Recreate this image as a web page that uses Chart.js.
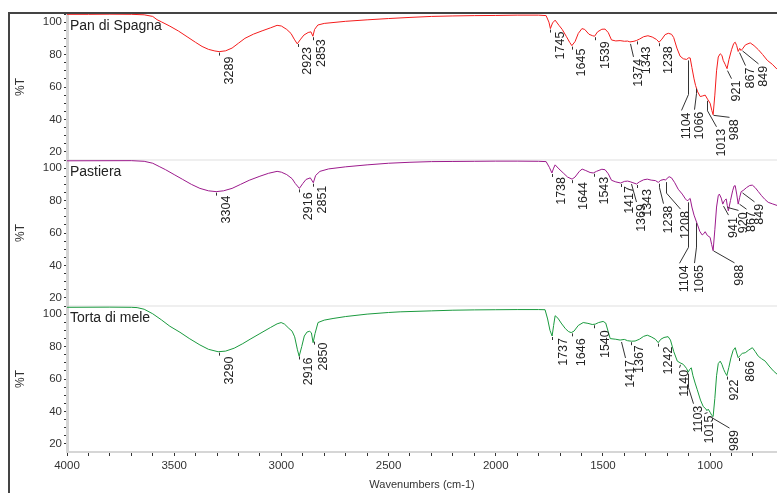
<!DOCTYPE html>
<html>
<head>
<meta charset="utf-8">
<script src="https://cdn.jsdelivr.net/npm/chart.js@4.4.1/dist/chart.umd.min.js"></script>
<style>
  body { margin: 0; background: #fff; }
  canvas { display: block; }
</style>
</head>
<body>
<canvas id="ftirChart" width="777" height="493"></canvas>
<script>
// Pan di Spagna (red)
const wnPan = [4000, 3900, 3800, 3700, 3640, 3600, 3580, 3560, 3520, 3480, 3440, 3400, 3370, 3340, 3310, 3290, 3260, 3230, 3200, 3170, 3130, 3090, 3050, 3020, 3000, 2975, 2955, 2940, 2926, 2910, 2895, 2875, 2862, 2853, 2845, 2830, 2800, 2700, 2600, 2500, 2400, 2300, 2200, 2100, 2000, 1900, 1800, 1765, 1752, 1745, 1735, 1723, 1705, 1690, 1670, 1655, 1645, 1630, 1615, 1598, 1585, 1565, 1548, 1539, 1525, 1505, 1490, 1475, 1460, 1440, 1420, 1400, 1385, 1374, 1355, 1343, 1330, 1310, 1290, 1270, 1250, 1238, 1225, 1210, 1195, 1180, 1170, 1155, 1140, 1125, 1110, 1100, 1093, 1085, 1075, 1068, 1058, 1046, 1035, 1023, 1012, 1000, 992, 986, 978, 970, 962, 953, 945, 939, 930, 921, 912, 900, 890, 883, 876, 869, 862, 856, 849, 835, 813, 795, 775, 755, 733, 710, 688];
const tPan = [104.8, 104.8, 104.9, 104.8, 104.5, 103.5, 101.5, 100.2, 97.5, 94.5, 91, 87.5, 85, 83.2, 82.2, 81.8, 82.3, 84, 87, 90, 92.6, 94.6, 96.5, 98, 97.6, 95.5, 93, 89.5, 86.6, 89.5, 92, 93.6, 94, 91.3, 95.5, 98.2, 99.2, 100.5, 101.4, 102.2, 102.9, 103.5, 103.8, 104, 104.1, 104.3, 104.3, 104, 100, 96, 99.5, 101.2, 98, 95.5, 91, 87.5, 85.5, 88, 93, 96, 95.5, 92.5, 91.6, 91.3, 94, 95.6, 95.7, 93.5, 89, 88.4, 88.6, 88.2, 88.3, 87.8, 88.2, 88.7, 89.5, 91, 91.6, 90.8, 89.3, 87.6, 89.5, 92.3, 93.1, 92.5, 90.5, 84, 79, 77.4, 77, 78, 77.9, 72, 65, 61, 57, 54.1, 54.5, 55, 52.5, 50, 45.5, 42.9, 55, 70, 78.5, 80.5, 79.5, 76.4, 74, 71.3, 77, 83, 86.8, 87.6, 85.5, 81.9, 83.8, 82.5, 83.5, 86, 87.2, 85.5, 83, 80, 76.4, 74, 71];

// Pastiera (purple)
const wnPast = [4000, 3700, 3640, 3600, 3570, 3540, 3500, 3460, 3420, 3380, 3340, 3304, 3270, 3230, 3190, 3150, 3100, 3060, 3020, 3000, 2975, 2950, 2935, 2916, 2900, 2885, 2865, 2851, 2840, 2820, 2780, 2700, 2600, 2500, 2400, 2300, 2200, 2100, 2000, 1900, 1800, 1765, 1750, 1738, 1730, 1723, 1705, 1685, 1665, 1644, 1630, 1610, 1597, 1580, 1560, 1545, 1530, 1505, 1490, 1475, 1460, 1440, 1417, 1400, 1385, 1373, 1360, 1343, 1330, 1310, 1293, 1275, 1255, 1242, 1230, 1215, 1208, 1200, 1191, 1180, 1165, 1149, 1130, 1115, 1107, 1100, 1093, 1085, 1075, 1060, 1048, 1037, 1030, 1023, 1013, 1000, 993, 986, 978, 970, 962, 957, 948, 941, 933, 925, 920, 915, 905, 895, 888, 883, 876, 869, 862, 855, 846, 830, 815, 803, 790, 775, 760, 745, 729, 710, 688];
const tPast = [104.5, 104.6, 104.2, 103, 101, 99, 96, 93, 90, 87.5, 86, 85.5, 86, 87.5, 90, 92.5, 95, 96.8, 98, 97.5, 96, 93.5, 90.5, 87.5, 90.5, 93, 94, 91, 95.5, 98, 99.5, 100.8, 102, 103, 103.6, 104, 104.1, 104.2, 104.3, 104.3, 104.2, 104, 100.5, 97, 100, 102, 99.5, 97, 94.5, 93.2, 94.5, 98, 99.4, 98.5, 97.3, 97, 98, 99.3, 99, 96.5, 92.5, 91.5, 90.8, 91.8, 92, 91.6, 91, 90.2, 91.5, 92.8, 93.2, 92.6, 92.3, 91.2, 92.5, 93, 92.6, 93.8, 94.7, 94, 91, 87, 84, 81, 79.9, 80.5, 81.3, 76, 71, 65.5, 61, 58.8, 59.5, 60.8, 58.5, 57.3, 53, 49.1, 62, 76, 83, 84, 81.5, 77.8, 80, 81, 77, 73.7, 80, 86, 89, 89.2, 84, 77.8, 82, 85.5, 86.2, 88, 89.3, 89.5, 88, 85.5, 83, 80.8, 78.9, 78, 77];

// Torta di mele (green)
const wnTorta = [4000, 3800, 3700, 3673, 3640, 3600, 3560, 3520, 3473, 3430, 3380, 3340, 3295, 3260, 3220, 3180, 3146, 3100, 3050, 3020, 3001, 2985, 2965, 2950, 2938, 2925, 2917, 2905, 2893, 2880, 2868, 2860, 2852, 2843, 2829, 2800, 2759, 2700, 2600, 2500, 2446, 2300, 2200, 2100, 2000, 1900, 1800, 1770, 1758, 1747, 1737, 1730, 1723, 1710, 1695, 1675, 1660, 1648, 1635, 1615, 1592, 1570, 1550, 1536, 1520, 1499, 1487, 1475, 1466, 1440, 1420, 1400, 1385, 1367, 1350, 1330, 1310, 1293, 1275, 1255, 1242, 1230, 1215, 1196, 1185, 1170, 1153, 1140, 1125, 1110, 1102, 1095, 1088, 1080, 1070, 1060, 1045, 1032, 1020, 1015, 1009, 1000, 992, 986, 978, 970, 962, 953, 945, 937, 930, 922, 913, 903, 893, 883, 876, 869, 860, 850, 836, 820, 803, 790, 775, 760, 743, 725, 705, 688];
const tTorta = [104.2, 104.3, 104.2, 104, 103, 100.2, 96.5, 92.5, 88.8, 85, 81, 78.3, 76.8, 77.2, 79, 81.8, 84.5, 88, 91.8, 94, 94.8, 93.8, 91.2, 89.5, 86, 78, 74, 80, 86.5, 89, 89.4, 88.5, 82.4, 88, 94.8, 96.3, 97.3, 98.5, 100, 101, 101.4, 102, 102.4, 102.6, 102.7, 102.8, 102.8, 102.7, 97, 90, 86.5, 93, 99, 97.5, 94.5, 91, 89.2, 88.6, 89.5, 93, 94.8, 94.3, 93.6, 93.8, 94.8, 95.5, 94.5, 89, 84.9, 84.5, 84, 84.4, 83.6, 83.3, 83.4, 84.5, 86.3, 87, 86, 84.5, 82.4, 84.5, 85.6, 86.1, 84, 77, 71, 70, 69, 66.5, 64.2, 66, 66.9, 62, 57.5, 53.4, 47, 43, 41.6, 40.5, 41.4, 39.5, 37.5, 36.8, 48, 62, 69.5, 71, 69, 66, 64, 62.1, 67, 73, 77.5, 79.3, 76, 73.1, 74.5, 75.8, 76.2, 77.8, 79.3, 77, 74, 72.5, 71, 68, 65, 63];

// peak annotations
const peaksPan = [3289, 2923, 2853, 1745, 1645, 1539, 1374, 1343, 1238, 1104, 1066, 1013, 988, 921, 867, 849];
const peaksPast = [3304, 2916, 2851, 1738, 1644, 1543, 1417, 1369, 1343, 1238, 1208, 1104, 1065, 988, 941, 920, 867, 849];
const peaksTorta = [3290, 2916, 2850, 1737, 1646, 1540, 1417, 1367, 1242, 1140, 1103, 1015, 989, 922, 866];

// label offsets in px from the peak point: [dx, dy]
const offsPan = [[4, 5], [3, 4], [2, 3], [4, 3], [3, 3], [4, 5], [2, 17], [3, 6], [3, 4], [-8, 54], [-3, 25], [8, 30], [15, 6], [3, 12], [5, 17], [15, 17]];
const offsPast = [[4, 4], [3, 4], [3, 3], [3, 4], [5, 3], [4, 4], [2, 3], [4, 22], [4, 5], [3, 24], [13, 31], [-10, 65], [-3, 44], [20, 16], [4, 13], [10, 7], [6, 9], [11, 13]];
const offsTorta = [[4, 5], [3, 2], [3, 2], [5, 2], [3, 6], [5, 6], [3, 20], [2, 4], [4, 4], [-2, 7], [4, 34], [-4, 5], [16, 14], [1, 4], [5, 4]];

const panels = [
	{name: 'Pan di Spagna', axis: 'y1', wn: wnPan, t: tPan, peaks: peaksPan, offs: offsPan, color: '#f41c1c'},
	{name: 'Pastiera', axis: 'y2', wn: wnPast, t: tPast, peaks: peaksPast, offs: offsPast, color: '#9c1a8c'},
	{name: 'Torta di mele', axis: 'y3', wn: wnTorta, t: tTorta, peaks: peaksTorta, offs: offsTorta, color: '#1a9a3e'}
];

const sans = '"Liberation Sans", Arial, sans-serif';

const valueAt = (wn, t, w) => {
	for (let i = 0; i < wn.length - 1; i++) {
		if (w <= wn[i] && w >= wn[i + 1]) {
			const f = (wn[i] - w) / (wn[i] - wn[i + 1]);
			return t[i] + f * (t[i + 1] - t[i]);
		}
	}
	return t[t.length - 1];
};

const frame = {
	id: 'frame',
	beforeDatasetsDraw(chart) {
		const ctx = chart.ctx;
		const area = chart.chartArea;
		ctx.save();
		ctx.strokeStyle = '#efefef';
		ctx.lineWidth = 2;
		['y1', 'y2'].forEach(id => {
			const b = chart.scales[id].bottom;
			ctx.beginPath();
			ctx.moveTo(area.left + 2, b);
			ctx.lineTo(area.right, b);
			ctx.stroke();
		});
		ctx.restore();
	},
	afterDraw(chart) {
		const ctx = chart.ctx;
		ctx.save();
		ctx.strokeStyle = '#444';
		ctx.lineWidth = 2;
		ctx.beginPath();
		ctx.moveTo(9, chart.height);
		ctx.lineTo(9, 13);
		ctx.lineTo(chart.width, 13);
		ctx.stroke();
		ctx.restore();
	}
};

const peakLabels = {
	id: 'peakLabels',
	afterDatasetsDraw(chart) {
		const ctx = chart.ctx;
		const xs = chart.scales.x;
		panels.forEach(p => {
			const ys = chart.scales[p.axis];
			ctx.save();
			ctx.fillStyle = '#222';
			ctx.font = '14px ' + sans;
			ctx.fillText(p.name, chart.chartArea.left + 3, ys.top + 16);
			ctx.font = '12.5px ' + sans;
			ctx.strokeStyle = '#333';
			ctx.lineWidth = 1;
			p.peaks.forEach((w, j) => {
				const [dx, dy] = p.offs[j];
				const px = Math.round(xs.getPixelForValue(w)) + 0.5;
				const py = ys.getPixelForValue(valueAt(p.wn, p.t, w));
				const lx = px + dx, ly = py + dy;
				ctx.beginPath();
				if (dy > 8 || dx < 0 || dx > 6) {
					ctx.moveTo(px, py + 2);
					if (ly - 18 > py + 4) ctx.lineTo(px, ly - 18);
					ctx.lineTo(lx + 1, ly - 2);
				} else {
					ctx.moveTo(px, py + 1);
					ctx.lineTo(px, py + 4);
				}
				ctx.stroke();
				ctx.save();
				ctx.translate(lx, ly);
				ctx.rotate(-Math.PI / 2);
				ctx.textAlign = 'right';
				ctx.textBaseline = 'top';
				ctx.fillText(String(w), 0, 0);
				ctx.restore();
			});
			ctx.restore();
		});
	}
};

const yAxis = (weight) => ({
	type: 'linear',
	position: 'left',
	stack: 'panels',
	stackWeight: 1,
	weight: weight,
	min: 15,
	max: 105,
	afterBuildTicks: s => { s.ticks = s.ticks.filter(t => t.value % 5 === 0 && t.value > 15); },
	afterFit: s => { s.width = 57; },
	ticks: {
		stepSize: 5,
		autoSkip: false,
		padding: 2,
		color: '#333',
		font: {family: sans, size: 11.5},
		callback: v => (v % 20 === 0 ? v : '')
	},
	grid: {drawOnChartArea: false, tickLength: 3, tickColor: '#333', tickWidth: 1},
	border: {color: '#d6d6d6', width: 3},
	title: {display: true, text: '%T', color: '#333', font: {family: sans, size: 12}, padding: {top: 3, bottom: 0}}
});

new Chart(document.getElementById('ftirChart'), {
	type: 'line',
	data: {
		datasets: panels.map(p => ({
			label: p.name,
			yAxisID: p.axis,
			data: p.wn.map((w, i) => ({x: w, y: p.t[i]})),
			borderColor: p.color,
			borderWidth: 1,
			pointRadius: 0,
			tension: 0,
			fill: false
		}))
	},
	options: {
		responsive: false,
		animation: false,
		devicePixelRatio: 1,
		layout: {padding: {left: 10, top: 14, right: 0, bottom: 0}},
		plugins: {legend: {display: false}, tooltip: {enabled: false}},
		scales: {
			x: {
				type: 'linear',
				reverse: true,
				min: 688,
				max: 4000,
				afterBuildTicks: s => { s.ticks = s.ticks.filter(t => t.value % 100 === 0); },
				afterFit: s => { s.height = 41; },
				ticks: {
					stepSize: 100,
					autoSkip: false,
					maxRotation: 0,
					padding: 3,
					color: '#333',
					font: {family: sans, size: 11.5},
					callback: v => (v % 500 === 0 ? v : '')
				},
				grid: {drawOnChartArea: false, tickLength: 4, tickColor: '#333'},
				border: {color: '#d6d6d6', width: 2},
				title: {display: true, text: 'Wavenumbers (cm-1)', color: '#333', font: {family: sans, size: 11}, padding: {top: 0, bottom: 1}}
			},
			y1: yAxis(3),
			y2: yAxis(2),
			y3: yAxis(1)
		}
	},
	plugins: [frame, peakLabels]
});
</script>
</body>
</html>
